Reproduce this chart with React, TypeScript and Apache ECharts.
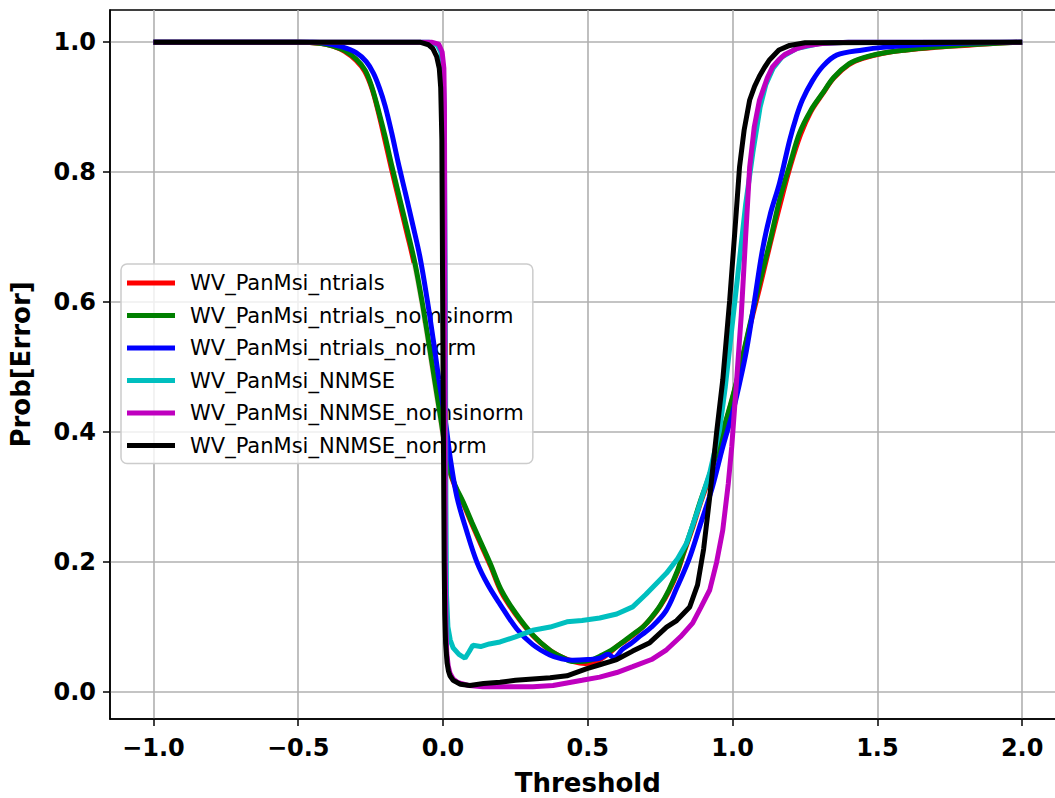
import React, { useEffect, useRef } from 'react';
import * as echarts from 'echarts';

const xTicks = [-1.0, -0.5, 0.0, 0.5, 1.0, 1.5, 2.0];
const yTicks = [0.0, 0.2, 0.4, 0.6, 0.8, 1.0];

const seriesNames = [
  'WV_PanMsi_ntrials',
  'WV_PanMsi_ntrials_nomsinorm',
  'WV_PanMsi_ntrials_nonorm',
  'WV_PanMsi_NNMSE',
  'WV_PanMsi_NNMSE_nomsinorm',
  'WV_PanMsi_NNMSE_nonorm',
];
const seriesColors = ['#ff0000', '#008000', '#0000ff', '#00bfbf', '#bf00bf', '#000000'];

const ntrials: [number, number][] = [
  [-1.0, 1.0], [-0.5, 1.0], [-0.42, 0.998], [-0.38, 0.994], [-0.34, 0.986], [-0.3, 0.972],
  [-0.27, 0.955], [-0.245, 0.928], [-0.222, 0.89], [-0.202, 0.852], [-0.179, 0.807], [-0.152, 0.757],
  [-0.125, 0.707], [-0.099, 0.658], [-0.074, 0.6], [-0.052, 0.54], [-0.031, 0.48], [-0.013, 0.43],
  [0.017, 0.35], [0.04, 0.318], [0.07, 0.29], [0.1, 0.258], [0.13, 0.228], [0.165, 0.193],
  [0.2, 0.155], [0.25, 0.12], [0.31, 0.087], [0.37, 0.064], [0.41, 0.054], [0.45, 0.047],
  [0.49, 0.044], [0.52, 0.045], [0.55, 0.052], [0.58, 0.062], [0.6, 0.07], [0.63, 0.079],
  [0.66, 0.089], [0.69, 0.1], [0.72, 0.114], [0.75, 0.132], [0.78, 0.155], [0.81, 0.185],
  [0.83, 0.212], [0.86, 0.25], [0.89, 0.292], [0.92, 0.33], [0.945, 0.368], [0.97, 0.405],
  [1.0, 0.452], [1.03, 0.505], [1.06, 0.563], [1.095, 0.625], [1.13, 0.69], [1.165, 0.752],
  [1.2, 0.81], [1.235, 0.858], [1.27, 0.893], [1.31, 0.92], [1.35, 0.945], [1.4, 0.965],
  [1.45, 0.975], [1.52, 0.983], [1.6, 0.988], [1.7, 0.992], [1.8, 0.995], [1.9, 0.998], [2.0, 1.0],
];

const ntrialsNomsinorm: [number, number][] = [
  [-1.0, 1.0], [-0.5, 1.0], [-0.42, 0.998], [-0.38, 0.994], [-0.34, 0.987], [-0.3, 0.974],
  [-0.269, 0.957], [-0.245, 0.93], [-0.22, 0.89], [-0.2, 0.855], [-0.177, 0.81], [-0.15, 0.76],
  [-0.123, 0.71], [-0.097, 0.66], [-0.072, 0.6], [-0.05, 0.54], [-0.029, 0.48], [-0.011, 0.43],
  [0.018, 0.35], [0.042, 0.318], [0.07, 0.292], [0.1, 0.261], [0.13, 0.231], [0.165, 0.196],
  [0.2, 0.158], [0.25, 0.122], [0.31, 0.088], [0.37, 0.064], [0.41, 0.054], [0.448, 0.047],
  [0.48, 0.047], [0.51, 0.049], [0.55, 0.057], [0.58, 0.064], [0.6, 0.07], [0.63, 0.08],
  [0.66, 0.09], [0.69, 0.1], [0.72, 0.115], [0.75, 0.133], [0.78, 0.157], [0.81, 0.187],
  [0.83, 0.214], [0.86, 0.253], [0.886, 0.29], [0.92, 0.333], [0.945, 0.368], [0.97, 0.407],
  [1.0, 0.454], [1.03, 0.508], [1.06, 0.566], [1.093, 0.629], [1.13, 0.695], [1.162, 0.757],
  [1.2, 0.815], [1.231, 0.86], [1.27, 0.895], [1.31, 0.921], [1.35, 0.946], [1.403, 0.967],
  [1.45, 0.976], [1.517, 0.983], [1.6, 0.988], [1.69, 0.992], [1.78, 0.995], [1.862, 0.997], [2.0, 1.0],
];

const ntrialsNonorm: [number, number][] = [
  [-1.0, 1.0], [-0.45, 1.0], [-0.4, 0.998], [-0.35, 0.993], [-0.3, 0.984], [-0.265, 0.97],
  [-0.24, 0.952], [-0.22, 0.93], [-0.2, 0.902], [-0.177, 0.86], [-0.155, 0.815], [-0.13, 0.768],
  [-0.105, 0.72], [-0.079, 0.668], [-0.055, 0.605], [-0.034, 0.543], [-0.014, 0.48], [0.0, 0.44],
  [0.012, 0.405], [0.025, 0.36], [0.048, 0.3], [0.08, 0.25], [0.117, 0.2], [0.155, 0.165], [0.197, 0.135],
  [0.255, 0.097], [0.31, 0.073], [0.369, 0.057], [0.41, 0.051], [0.448, 0.049], [0.5, 0.05],
  [0.54, 0.052], [0.57, 0.058], [0.59, 0.053], [0.62, 0.066], [0.65, 0.075], [0.68, 0.086],
  [0.72, 0.1], [0.77, 0.125], [0.807, 0.16], [0.85, 0.205], [0.886, 0.254], [0.93, 0.315],
  [0.966, 0.377], [1.0, 0.43], [1.024, 0.475], [1.048, 0.526], [1.075, 0.6], [1.103, 0.68],
  [1.13, 0.735], [1.162, 0.783], [1.197, 0.849], [1.22, 0.885], [1.241, 0.911], [1.275, 0.94],
  [1.31, 0.962], [1.359, 0.98], [1.45, 0.988], [1.52, 0.992], [1.65, 0.996], [1.75, 0.998], [2.0, 1.0],
];

const nnmse: [number, number][] = [
  [-1.0, 1.0], [-0.05, 1.0], [-0.02, 0.996], [-0.008, 0.985], [0.0, 0.96], [0.004, 0.9],
  [0.008, 0.6], [0.01, 0.3], [0.012, 0.15], [0.017, 0.1], [0.025, 0.08], [0.035, 0.068],
  [0.055, 0.058], [0.076, 0.052], [0.09, 0.062], [0.103, 0.072], [0.13, 0.07], [0.16, 0.074],
  [0.197, 0.077], [0.25, 0.085], [0.31, 0.095], [0.37, 0.1], [0.428, 0.108], [0.48, 0.11],
  [0.541, 0.114], [0.6, 0.12], [0.655, 0.131], [0.7, 0.15], [0.748, 0.172], [0.772, 0.183],
  [0.81, 0.205], [0.841, 0.229], [0.88, 0.28], [0.921, 0.337], [0.955, 0.403], [0.975, 0.47],
  [0.995, 0.55], [1.02, 0.65], [1.045, 0.75], [1.07, 0.83], [1.095, 0.9], [1.115, 0.935],
  [1.14, 0.96], [1.17, 0.977], [1.22, 0.99], [1.3, 0.998], [1.4, 1.0], [2.0, 1.0],
];

const nnmseNomsinorm: [number, number][] = [
  [-1.0, 1.0], [-0.04, 1.0], [-0.015, 0.997], [-0.003, 0.985], [0.003, 0.96], [0.005, 0.9],
  [0.007, 0.5], [0.008, 0.2], [0.01, 0.1], [0.013, 0.06], [0.018, 0.04], [0.024, 0.029],
  [0.035, 0.02], [0.05, 0.015], [0.09, 0.01], [0.138, 0.008], [0.2, 0.008], [0.31, 0.008],
  [0.38, 0.01], [0.428, 0.014], [0.48, 0.018], [0.541, 0.023], [0.6, 0.03], [0.655, 0.039],
  [0.72, 0.05], [0.772, 0.065], [0.82, 0.085], [0.862, 0.106], [0.89, 0.13], [0.921, 0.157],
  [0.945, 0.2], [0.966, 0.249], [0.985, 0.32], [0.997, 0.377], [1.014, 0.48], [1.03, 0.58],
  [1.045, 0.7], [1.059, 0.808], [1.075, 0.87], [1.093, 0.911], [1.12, 0.945], [1.138, 0.962],
  [1.16, 0.973], [1.18, 0.981], [1.221, 0.99], [1.26, 0.995], [1.31, 0.998], [1.4, 1.0], [2.0, 1.0],
];

const nnmseNonorm: [number, number][] = [
  [-1.0, 1.0], [-0.08, 1.0], [-0.05, 0.996], [-0.035, 0.99], [-0.022, 0.978], [-0.013, 0.96],
  [-0.008, 0.93], [-0.004, 0.85], [0.0, 0.5], [0.004, 0.2], [0.006, 0.12], [0.009, 0.075],
  [0.014, 0.045], [0.019, 0.032], [0.024, 0.025], [0.035, 0.018], [0.06, 0.012], [0.093, 0.01],
  [0.14, 0.013], [0.197, 0.015], [0.25, 0.018], [0.31, 0.02], [0.37, 0.022], [0.428, 0.025],
  [0.497, 0.036], [0.541, 0.042], [0.6, 0.05], [0.655, 0.063], [0.714, 0.076], [0.772, 0.1],
  [0.807, 0.11], [0.852, 0.131], [0.879, 0.165], [0.9, 0.22], [0.921, 0.3], [0.945, 0.4],
  [0.966, 0.48], [0.99, 0.603], [1.008, 0.71], [1.024, 0.808], [1.04, 0.865], [1.059, 0.911],
  [1.076, 0.932], [1.093, 0.948], [1.11, 0.961], [1.128, 0.973], [1.16, 0.988], [1.197, 0.995],
  [1.25, 0.999], [2.0, 1.0],
];

const seriesData = [ntrials, ntrialsNomsinorm, ntrialsNonorm, nnmse, nnmseNomsinorm, nnmseNonorm];
const seriesSmooth = [0.35, 0.35, 0.35, 0, 0, 0];

const FONT = 'DejaVu Sans';
const fmt = (v: number) => (v < 0 ? '\u2212' : '') + Math.abs(v).toFixed(1);

export default function App() {
  const ref = useRef<HTMLDivElement>(null);
  useEffect(() => {
    const chart = echarts.init(ref.current!, null, { renderer: 'svg' });
    chart.setOption({
      animation: false,
      backgroundColor: '#ffffff',
      grid: {
        left: 110,
        top: 10,
        width: 955.6,
        height: 709,
        containLabel: false,
        outerBoundsMode: 'none',
        show: true,
        borderColor: '#000',
        borderWidth: 1.5,
        backgroundColor: 'transparent',
      },
      xAxis: {
        type: 'value',
        min: -1.15,
        max: 2.15,
        name: 'Threshold',
        nameLocation: 'middle',
        nameGap: 51,
        nameTextStyle: { fontSize: 26, lineHeight: 26, fontWeight: 'bold', color: '#000', fontFamily: FONT },
        axisLine: { show: true, onZero: false, lineStyle: { color: '#000', width: 1.5 } },
        axisTick: { show: true, customValues: xTicks, length: 7, lineStyle: { color: '#000', width: 1.5 } },
        axisLabel: {
          customValues: xTicks,
          fontSize: 24,
          fontWeight: 'bold',
          color: '#000',
          fontFamily: FONT,
          margin: 17,
          formatter: fmt,
        },
        splitLine: { show: true, lineStyle: { color: '#b0b0b0', width: 1.6 } },
      },
      yAxis: {
        type: 'value',
        min: -0.0415,
        max: 1.0495,
        name: 'Prob[Error]',
        nameLocation: 'middle',
        nameRotate: 90,
        nameGap: 76,
        nameTextStyle: { fontSize: 26, fontWeight: 'bold', color: '#000', fontFamily: FONT },
        axisLine: { show: true, onZero: false, lineStyle: { color: '#000', width: 1.5 } },
        axisTick: { show: true, customValues: yTicks, length: 7, lineStyle: { color: '#000', width: 1.5 } },
        axisLabel: {
          customValues: yTicks,
          fontSize: 24,
          fontWeight: 'bold',
          color: '#000',
          fontFamily: FONT,
          margin: 14,
          formatter: fmt,
        },
        splitLine: { show: true, lineStyle: { color: '#b0b0b0', width: 1.6 } },
      },
      legend: {
        orient: 'vertical',
        left: 121,
        top: 264,
        data: seriesNames,
        icon: 'rect',
        itemWidth: 48,
        itemHeight: 5,
        itemGap: 8.5,
        padding: [7, 9, 6, 6],
        backgroundColor: 'rgba(255,255,255,0.8)',
        borderColor: '#cccccc',
        borderWidth: 1.5,
        borderRadius: 6,
        textStyle: { fontSize: 21, fontFamily: FONT, color: '#000', lineHeight: 24, padding: [0, 0, 0, 10] },
      },
      series: seriesNames.map((name, i) => ({
        name,
        type: 'line',
        data: seriesData[i],
        showSymbol: false,
        symbol: 'none',
        smooth: seriesSmooth[i],
        clip: true,
        z: 3 + i,
        color: seriesColors[i],
        itemStyle: { color: seriesColors[i] },
        lineStyle: { color: seriesColors[i], width: 5 },
      })),
    });
    return () => chart.dispose();
  }, []);
  return (
    <div style={{ position: 'fixed', left: 0, top: 0, width: 1055, height: 798, overflow: 'hidden', background: '#fff' }}>
      <div ref={ref} style={{ width: 1080, height: 798 }} />
    </div>
  );
}
